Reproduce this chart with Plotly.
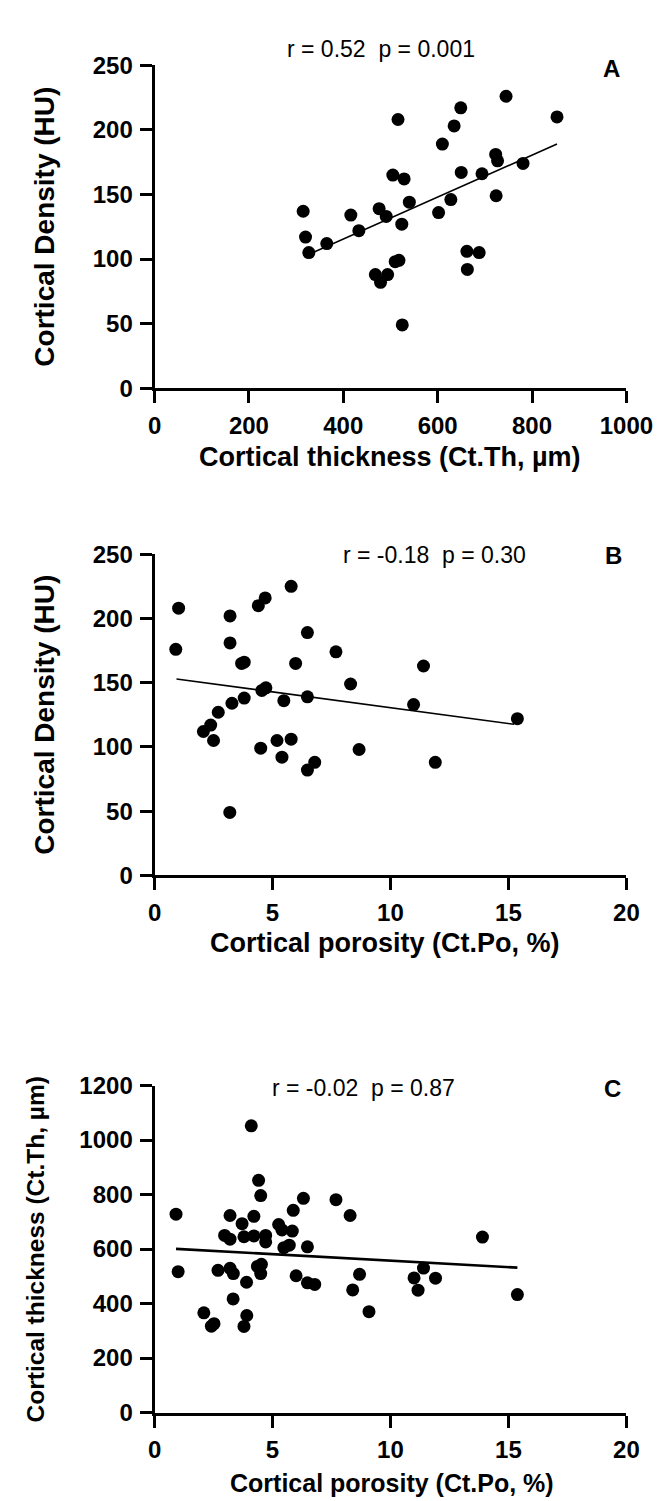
import plotly.graph_objects as go

W, H = 671, 1501

# ---------------- data ----------------
# Panel A: Cortical thickness (um) vs Cortical density (HU)
a_thickness = [315, 320, 327, 365, 416, 433, 476, 491, 468, 479, 494, 505, 516, 510, 518,
               524, 529, 540, 525, 602, 610, 628, 635, 649, 650, 662, 663, 688, 694, 723,
               727, 724, 745, 781, 853]
a_density = [137, 117, 105, 112, 134, 122, 139, 133, 88, 82, 88, 165, 208, 98, 99,
             127, 162, 144, 49, 136, 189, 146, 203, 217, 167, 106, 92, 105, 166, 181,
             176, 149, 226, 174, 210]
a_fit_x = [317, 853]
a_fit_y = [102, 189]

# Panel B: Cortical porosity (%) vs Cortical density (HU)
b_porosity = [0.9, 1.02, 2.07, 2.38, 2.5, 2.7, 3.2, 3.2, 3.28, 3.19, 3.69, 3.8, 3.8, 4.4,
              4.69, 4.5, 4.55, 4.72, 5.19, 5.4, 5.48, 5.79, 5.79, 6.48, 5.98, 6.48, 6.48,
              6.79, 7.69, 8.31, 8.67, 10.98, 11.4, 11.9, 15.38]
b_density = [176, 208, 112, 117, 105, 127, 202, 181, 134, 49, 165, 166, 138, 210,
             216, 99, 144, 146, 105, 92, 136, 225, 106, 189, 165, 139, 82,
             88, 174, 149, 98, 133, 163, 88, 122]
b_fit_x = [0.93, 15.24]
b_fit_y = [152.9, 117.6]

# Panel C: Cortical porosity (%) vs Cortical thickness (um)
c_porosity = [0.91, 1.0, 2.09, 2.41, 2.52, 2.69, 2.97, 3.2, 3.2, 3.2, 3.34, 3.33, 3.71, 3.79,
              3.9, 3.91, 3.79, 4.1, 4.21, 4.21, 4.41, 4.5, 4.36, 4.53, 4.5, 4.71, 4.71,
              5.26, 5.4, 5.48, 5.71, 5.88, 5.84, 6.31, 6.0, 6.48, 6.48, 6.79, 7.69, 8.29,
              8.4, 8.69, 9.09, 11.0, 11.17, 11.4, 11.91, 13.9, 15.38]
c_thickness = [728, 517, 366, 317, 326, 522, 650, 636, 723, 529, 510, 417, 693, 645,
               478, 356, 316, 1052, 720, 648, 852, 796, 536, 544, 510, 650, 626,
               690, 670, 605, 614, 742, 666, 786, 502, 608, 476, 470, 781, 723,
               450, 507, 370, 494, 449, 530, 493, 644, 433]
c_fit_x = [0.91, 15.38]
c_fit_y = [600.6, 531.6]

panel_stats = ["r = 0.52  p = 0.001", "r = -0.18  p = 0.30", "r = -0.02  p = 0.87"]
panel_letters = ["A", "B", "C"]
x_titles = ["Cortical thickness (Ct.Th, µm)", "Cortical porosity (Ct.Po, %)",
            "Cortical porosity (Ct.Po, %)"]
y_titles = ["Cortical Density (HU)", "Cortical Density (HU)", "Cortical thickness (Ct.Th, µm)"]

# ---------------- layout helpers ----------------
FONT = "Liberation Sans, Arial, sans-serif"


def px(x):
    return x / W


def py(y):
    return 1 - y / H


x_left, x_right = 147, 644
panels = [
    dict(top=44, bottom=373, xr=[0, 1000], yr=[0, 250], dx=200, dy=50),
    dict(top=542, bottom=869, xr=[0, 20], yr=[0, 250], dx=5, dy=50),
    dict(top=1083, bottom=1416, xr=[0, 20], yr=[0, 1200], dx=5, dy=200),
]

series = [
    (a_thickness, a_density, a_fit_x, a_fit_y, 1.6),
    (b_porosity, b_density, b_fit_x, b_fit_y, 1.6),
    (c_porosity, c_thickness, c_fit_x, c_fit_y, 2.6),
]

fig = go.Figure()
layout = dict(
    width=W, height=H,
    margin=dict(l=0, r=0, t=0, b=0),
    paper_bgcolor="white", plot_bgcolor="white",
    showlegend=False,
    annotations=[],
)

for i, (p, s) in enumerate(zip(panels, series)):
    n = "" if i == 0 else str(i + 1)
    xa, ya = "x" + n, "y" + n
    xs, ys, fx, fy, lw = s
    fig.add_trace(go.Scatter(x=xs, y=ys, mode="markers", xaxis=xa, yaxis=ya,
                             marker=dict(color="black", size=13, line=dict(width=0)),
                             cliponaxis=False))
    fig.add_trace(go.Scatter(x=fx, y=fy, mode="lines", xaxis=xa, yaxis=ya,
                             line=dict(color="black", width=lw)))
    axis_common = dict(
        showgrid=False, zeroline=False, showline=True, linecolor="black", linewidth=3,
        ticks="outside", ticklen=12, tickwidth=3, tickcolor="black",
        tickfont=dict(family=FONT, size=24, color="black", weight="bold"),
    )
    layout["xaxis" + n] = dict(
        axis_common, domain=[px(x_left), px(x_right)], range=p["xr"],
        tickmode="linear", tick0=0, dtick=p["dx"], anchor=ya, ticklabelstandoff=2,
    )
    layout["yaxis" + n] = dict(
        axis_common, domain=[py(p["bottom"]), py(p["top"])], range=p["yr"],
        tickmode="linear", tick0=0, dtick=p["dy"], anchor=xa, ticklabelstandoff=2,
    )

# text annotations (pixel positions)
stat_pos = [(386, 27), (442, 543), (367, 1086)]
letter_pos = [(628, 47), (630, 543), (629, 1086)]
xt_pos = [(395, 443, 27), (390, 938, 27), (397, 1488, 25)]
yt_pos = [(31, 208, 28), (31, 705, 28), (22, 1250, 24.5)]

for i in range(3):
    layout["annotations"].append(dict(
        text=panel_stats[i], x=px(stat_pos[i][0]), y=py(stat_pos[i][1]),
        xref="paper", yref="paper", showarrow=False, xanchor="center", yanchor="middle",
        font=dict(family=FONT, size=23, color="black")))
    layout["annotations"].append(dict(
        text="<b>%s</b>" % panel_letters[i], x=px(letter_pos[i][0]), y=py(letter_pos[i][1]),
        xref="paper", yref="paper", showarrow=False, xanchor="center", yanchor="middle",
        font=dict(family=FONT, size=24, color="black")))
    layout["annotations"].append(dict(
        text="<b>%s</b>" % x_titles[i], x=px(xt_pos[i][0]), y=py(xt_pos[i][1]),
        xref="paper", yref="paper", showarrow=False, xanchor="center", yanchor="middle",
        font=dict(family=FONT, size=xt_pos[i][2], color="black")))
    layout["annotations"].append(dict(
        text="<b>%s</b>" % y_titles[i], x=px(yt_pos[i][0]), y=py(yt_pos[i][1]),
        xref="paper", yref="paper", showarrow=False, xanchor="center", yanchor="middle",
        textangle=-90, font=dict(family=FONT, size=yt_pos[i][2], color="black")))

fig.update_layout(**layout)
fig.write_html("out.html")
